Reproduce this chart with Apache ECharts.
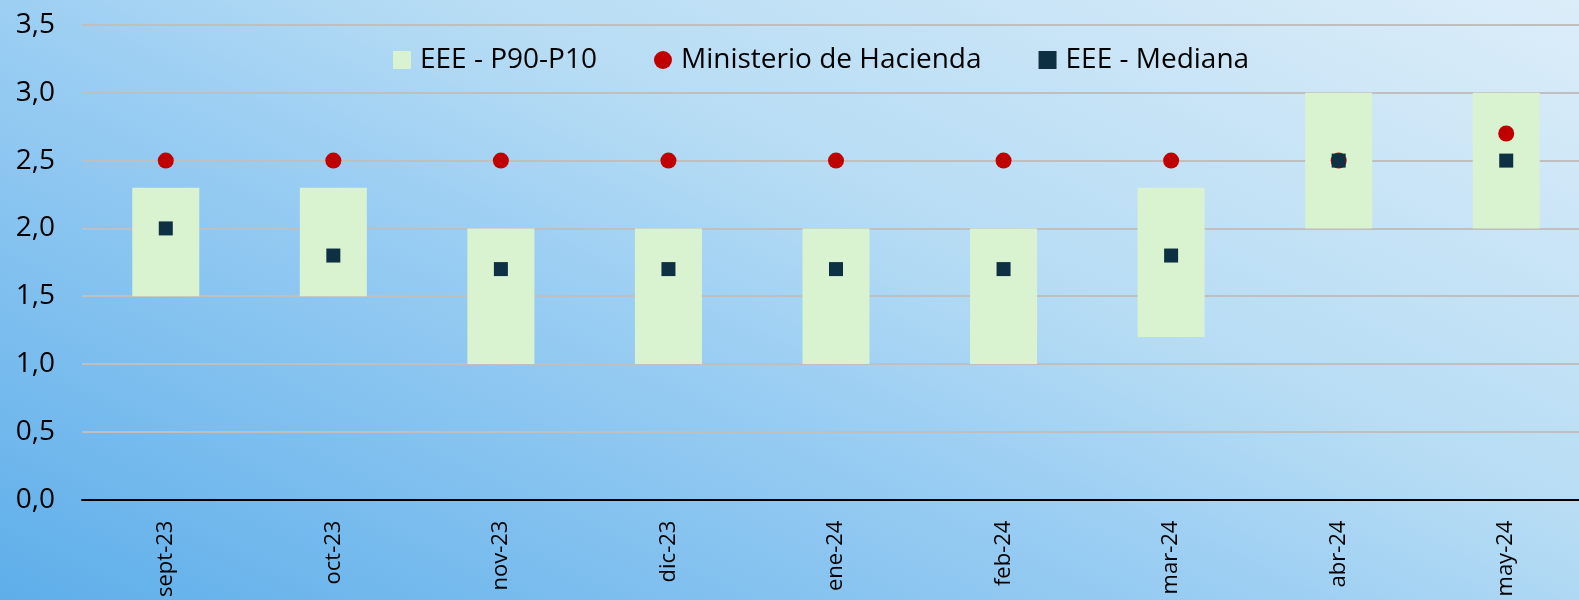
<!DOCTYPE html>
<html>
<head>
<meta charset="utf-8">
<script src="https://cdn.jsdelivr.net/npm/echarts@6/dist/echarts.min.js"></script>
<style>
  html, body { margin: 0; padding: 0; overflow: hidden; }
  /* the plot runs a little past the right edge of the window, as in the original */
  #chart { width: 1590px; height: 600px; }
</style>
</head>
<body>
<div id="chart"></div>
<script>
var categories = ['sept-23', 'oct-23', 'nov-23', 'dic-23', 'ene-24', 'feb-24', 'mar-24', 'abr-24', 'may-24'];
var p10 = [1.5, 1.5, 1.0, 1.0, 1.0, 1.0, 1.2, 2.0, 2.0];
var p90 = [2.3, 2.3, 2.0, 2.0, 2.0, 2.0, 2.3, 3.0, 3.0];
var hacienda = [2.5, 2.5, 2.5, 2.5, 2.5, 2.5, 2.5, 2.5, 2.7];
var mediana = [2.0, 1.8, 1.7, 1.7, 1.7, 1.7, 1.8, 2.5, 2.5];
var yTicks = [0, 0.5, 1.0, 1.5, 2.0, 2.5, 3.0, 3.5];

var font = 'Open Sans';
var spread = p90.map(function (v, i) { return +(v - p10[i]).toFixed(2); });

var myChart = echarts.init(document.getElementById('chart'));
myChart.setOption({
  animation: false,
  // light in the upper right, darker towards the lower left
  backgroundColor: new echarts.graphic.LinearGradient(0, 600, 509, -496, [
    { offset: 0, color: '#5eaeea' },
    { offset: 0.45, color: '#9dcff3' },
    { offset: 0.6, color: '#b6dcf4' },
    { offset: 1, color: '#dcedf9' }
  ], true),
  textStyle: { fontFamily: font },
  legend: {
    left: 388,
    top: 41,
    itemWidth: 18,
    itemHeight: 18,
    itemGap: 57,
    textStyle: { fontSize: 28, color: '#000', fontFamily: font, padding: [0, 0, 0, 4] },
    data: [
      { name: 'EEE - P90-P10', icon: 'rect' },
      { name: 'Ministerio de Hacienda', icon: 'circle' },
      { name: 'EEE - Mediana', icon: 'path://M2,2L16,2L16,16L2,16Z' }
    ]
  },
  grid: { left: 82, right: 0, top: 25, bottom: 98, containLabel: false },
  xAxis: {
    type: 'category',
    data: categories,
    axisLine: { lineStyle: { color: '#000', width: 2 } },
    axisTick: { show: false },
    axisLabel: { rotate: 90, fontSize: 22, color: '#000', margin: 21, fontFamily: font }
  },
  yAxis: {
    type: 'value',
    min: yTicks[0],
    max: yTicks[yTicks.length - 1],
    interval: 0.5,
    axisLine: { show: false },
    axisTick: { show: false },
    splitLine: { lineStyle: { color: '#bfbfbf', width: 2 } },
    axisLabel: {
      fontSize: 28, color: '#000', margin: 27, fontFamily: font,
      formatter: function (v) { return v.toFixed(1).replace('.', ','); }
    }
  },
  series: [
    {
      name: 'base',
      type: 'bar',
      stack: 'rango',
      silent: true,
      barWidth: '40%',
      itemStyle: { color: 'transparent' },
      data: p10
    },
    {
      name: 'EEE - P90-P10',
      type: 'bar',
      stack: 'rango',
      barWidth: '40%',
      itemStyle: { color: '#d9f2d0' },
      data: spread
    },
    {
      name: 'Ministerio de Hacienda',
      type: 'scatter',
      symbol: 'circle',
      symbolSize: 16,
      itemStyle: { color: '#c00000', opacity: 1 },
      data: hacienda
    },
    {
      name: 'EEE - Mediana',
      type: 'scatter',
      symbol: 'rect',
      symbolSize: 14,
      itemStyle: { color: '#0e3043', opacity: 1 },
      data: mediana
    }
  ]
});
</script>
</body>
</html>
